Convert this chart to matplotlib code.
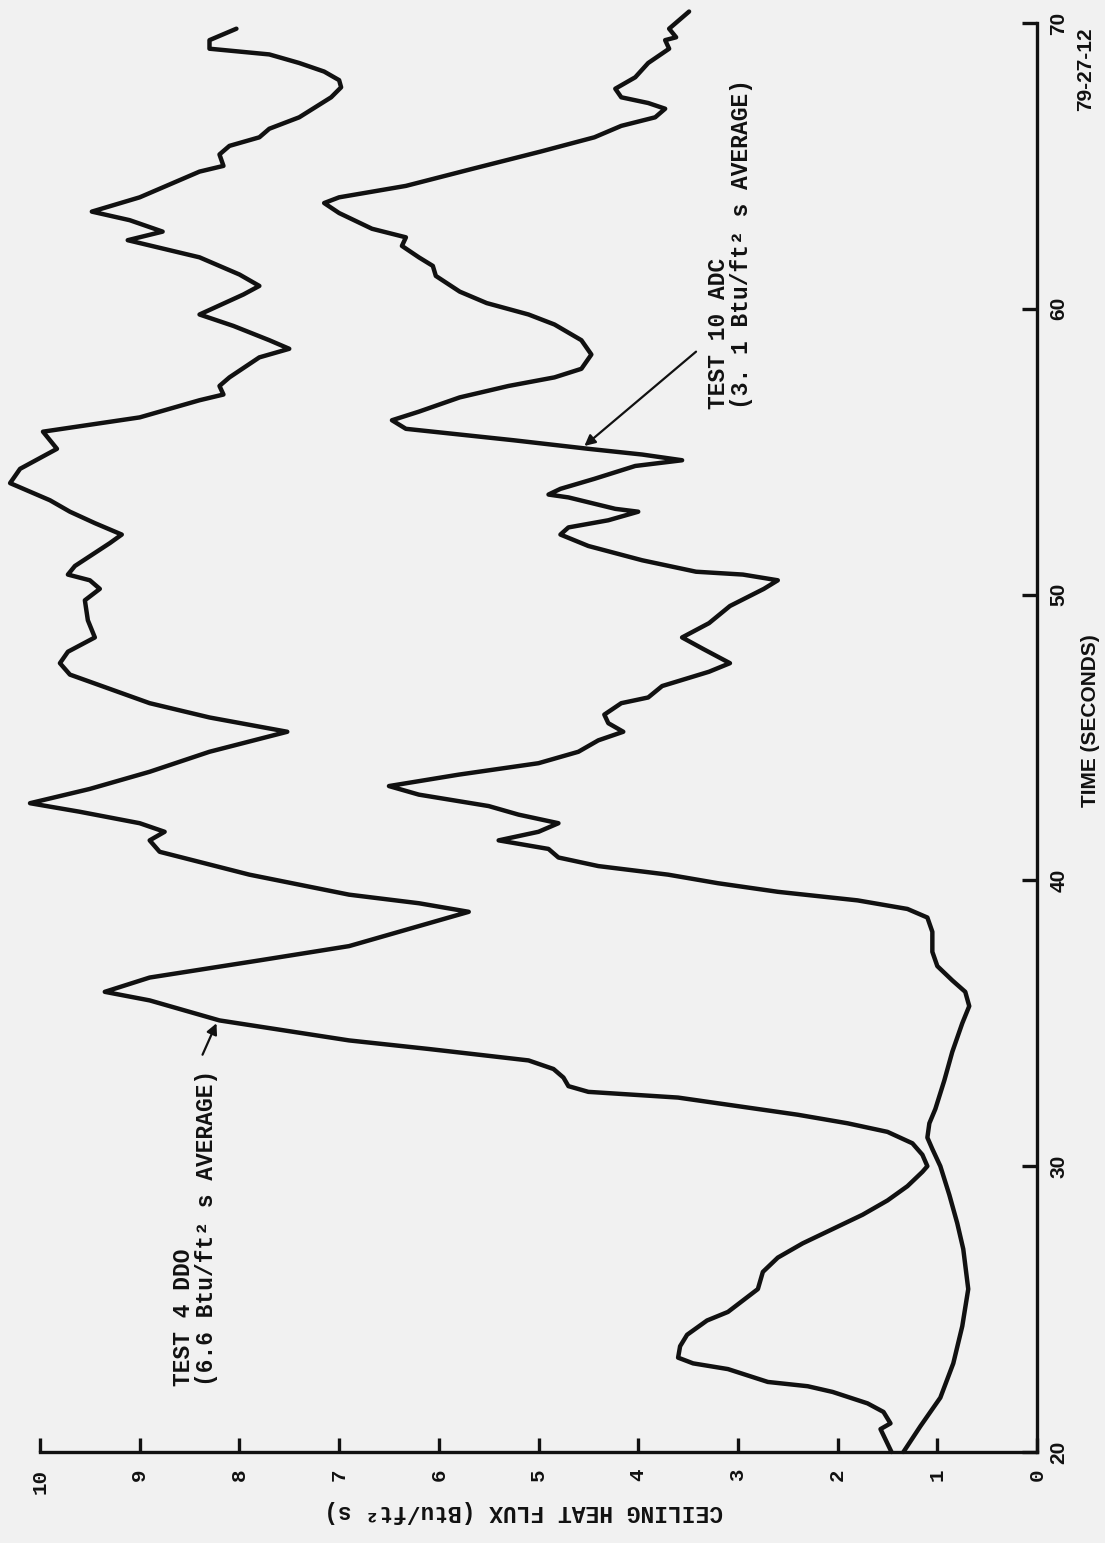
import matplotlib
matplotlib.use("Agg")
import matplotlib.pyplot as plt

# Test 4 DDO ceiling heat flux (time in s, flux in Btu/ft2 s)
ddo_time = [20.0, 20.8, 21.0, 21.4, 21.7, 22.1, 22.3, 22.45, 22.9, 23.1, 23.3, 23.7,
            24.1, 24.6, 24.9, 25.3, 25.7, 26.3, 26.8, 27.3, 27.8, 28.3, 28.8, 29.3,
            29.8, 30.0, 30.4, 30.8, 31.2, 31.5, 31.8, 32.1, 32.4, 32.6, 32.8, 33.1,
            33.4, 33.7, 33.9, 34.1, 34.4, 35.1, 35.8, 36.1, 36.6, 37.2, 37.7, 38.3,
            38.9, 39.2, 39.5, 40.2, 41.0, 41.4, 41.7, 42.0, 42.4, 42.7, 43.2, 43.8,
            44.5, 45.2, 45.7, 46.2, 46.8, 47.2, 47.6, 48.0, 48.5, 49.1, 49.8, 50.2,
            50.5, 50.7, 51.0, 51.8, 52.1, 52.5, 52.9, 53.3, 53.9, 54.4, 55.1, 55.7,
            56.2, 56.8, 57.0, 57.3, 57.6, 58.3, 58.6, 58.9, 59.4, 59.8, 60.5, 60.8,
            61.2, 61.8, 62.4, 62.7, 63.1, 63.4, 63.9, 64.8, 65.0, 65.4, 65.7, 66.0,
            66.3, 66.7, 67.4, 67.75, 68.0, 68.3, 68.6, 68.9, 69.1, 69.4, 69.8]
ddo_flux = [1.46, 1.57, 1.47, 1.54, 1.7, 2.05, 2.3, 2.7, 3.1, 3.45, 3.6, 3.58,
            3.51, 3.31, 3.1, 2.95, 2.8, 2.75, 2.6, 2.35, 2.05, 1.75, 1.5, 1.3,
            1.15, 1.1, 1.15, 1.25, 1.5, 1.9, 2.4, 3.0, 3.6, 4.5, 4.7, 4.75,
            4.85, 5.1, 5.6, 6.1, 6.9, 8.2, 8.9, 9.35, 8.9, 7.8, 6.9, 6.3,
            5.7, 6.2, 6.9, 7.9, 8.8, 8.9, 8.75, 9.0, 9.6, 10.1, 9.5, 8.9,
            8.3, 7.52, 8.3, 8.9, 9.38, 9.7, 9.8, 9.72, 9.45, 9.52, 9.55, 9.4,
            9.5, 9.72, 9.65, 9.3, 9.18, 9.45, 9.7, 9.9, 10.3, 10.2, 9.83, 9.97,
            9.0, 8.4, 8.16, 8.2, 8.1, 7.8, 7.5, 7.7, 8.06, 8.4, 7.96, 7.8,
            8.0, 8.4, 9.12, 8.77, 9.1, 9.48, 9.0, 8.4, 8.16, 8.2, 8.1, 7.8,
            7.7, 7.4, 7.08, 6.98, 7.0, 7.15, 7.4, 7.7, 8.3, 8.3, 8.03]

# Test 10 ADC ceiling heat flux
adc_time = [20.0, 20.9, 21.9, 23.1, 24.4, 25.7, 27.1, 28.0, 29.0, 30.0, 30.6, 31.0,
            31.5, 32.0, 33.0, 34.0, 35.0, 35.6, 36.1, 36.5, 37.0, 37.5, 38.2, 38.7,
            39.0, 39.3, 39.6, 39.9, 40.2, 40.5, 40.8, 41.1, 41.4, 41.7, 42.0, 42.3,
            42.6, 43.0, 43.3, 43.7, 44.1, 44.5, 44.9, 45.2, 45.5, 45.8, 46.2, 46.4,
            46.8, 47.3, 47.6, 48.1, 48.5, 49.0, 49.6, 50.2, 50.5, 50.7, 50.8, 51.2,
            51.7, 52.1, 52.35, 52.6, 52.9, 53.0, 53.4, 53.5, 53.7, 54.05, 54.5, 54.7,
            54.9, 55.1, 55.4, 55.6, 55.8, 56.1, 56.4, 56.9, 57.3, 57.6, 57.9, 58.4,
            58.9, 59.45, 59.8, 60.2, 60.6, 61.15, 61.5, 61.8, 62.2, 62.5, 62.8, 63.35,
            63.7, 63.9, 64.3, 64.9, 65.5, 66.0, 66.4, 66.7, 67.0, 67.2, 67.4, 67.7,
            68.1, 68.6, 69.1, 69.4, 69.5, 69.8, 70.4]
adc_flux = [1.34, 1.17, 0.97, 0.84, 0.75, 0.69, 0.74, 0.8, 0.88, 0.97, 1.05, 1.1,
            1.08, 1.02, 0.93, 0.85, 0.75, 0.68, 0.72, 0.85, 1.0, 1.05, 1.05, 1.1,
            1.3, 1.8, 2.6, 3.2, 3.7, 4.4, 4.8, 4.9, 5.4, 5.0, 4.8, 5.2,
            5.5, 6.2, 6.5, 5.8, 5.0, 4.6, 4.4, 4.15, 4.3, 4.34, 4.17, 3.9,
            3.76, 3.29, 3.08, 3.35, 3.56, 3.29, 3.08, 2.74, 2.6, 2.95, 3.42, 3.96,
            4.5, 4.78, 4.7, 4.3, 4.0, 4.23, 4.7, 4.9, 4.78, 4.44, 4.03, 3.56,
            3.96, 4.5, 5.25, 5.79, 6.33, 6.47, 6.2, 5.79, 5.3, 4.84, 4.57, 4.47,
            4.57, 4.84, 5.1, 5.52, 5.79, 6.03, 6.06, 6.2, 6.37, 6.33, 6.67, 7.0,
            7.15, 7.0, 6.33, 5.66, 4.98, 4.44, 4.17, 3.83, 3.73, 3.9, 4.17, 4.23,
            4.03, 3.9, 3.69, 3.73, 3.62, 3.69, 3.49]

flux_ticks = list(range(0, 11))
time_ticks = [20, 30, 40, 50, 60, 70]

ddo_label = "TEST 4 DDO\n(6.6 Btu/ft\u00b2 s AVERAGE)"
adc_label = "TEST 10 ADC\n(3. 1 Btu/ft\u00b2 s AVERAGE)"
flux_title = "CEILING HEAT FLUX (Btu/ft\u00b2 s)"
time_title = "TIME (SECONDS)"
fig_number = "79-27-12"

paper = "#f1f1f1"
ink = "#111111"
mono = ["Liberation Mono", "DejaVu Sans Mono"]
sans = ["Liberation Sans", "DejaVu Sans"]

# the figure is printed sideways on the page: flux runs along the bottom
# (10 on the left), time runs up the right-hand side
fig = plt.figure(figsize=(11.05, 15.43), dpi=100, facecolor=paper)
ax = fig.add_axes([0.0362, 0.0590, 0.9023, 0.9261])
ax.set_facecolor(paper)

ax.plot(ddo_flux, ddo_time, color=ink, lw=3.2, clip_on=False,
        solid_joinstyle="round", solid_capstyle="round")
ax.plot(adc_flux, adc_time, color=ink, lw=3.2, clip_on=False,
        solid_joinstyle="round", solid_capstyle="round")

ax.set_xlim(10, 0)
ax.set_ylim(20, 70)

for side in ["left", "top"]:
    ax.spines[side].set_visible(False)
for side in ["right", "bottom"]:
    ax.spines[side].set_linewidth(2.4)
    ax.spines[side].set_color(ink)

ax.yaxis.tick_right()
ax.set_xticks(flux_ticks)
ax.set_yticks(time_ticks)
ax.tick_params(axis="x", direction="in", length=10, width=2.4, pad=12, colors=ink)
ax.tick_params(axis="y", direction="in", length=11, width=2.4, pad=9, colors=ink)
ax.set_xticklabels([str(v) for v in flux_ticks], rotation=90,
                   family=mono, fontweight="bold", fontsize=15)
ax.set_yticklabels([str(v) for v in time_ticks], rotation=90, va="center",
                   family=sans, fontweight="bold", fontsize=15)

# curve labels and arrows
ax.text(8.45, 22.3, ddo_label, rotation=90, ha="center", va="bottom",
        multialignment="left", family=mono, fontweight="bold",
        fontsize=16.5, color=ink, linespacing=1.0)
ax.text(3.08, 56.5, adc_label, rotation=90, ha="center", va="bottom",
        multialignment="left", family=mono, fontweight="bold",
        fontsize=16.5, color=ink, linespacing=1.0)
arrow = dict(arrowstyle="-|>", lw=1.6, color=ink, mutation_scale=16,
             shrinkA=0, shrinkB=0)
ax.annotate("", xy=(8.23, 35.0), xytext=(8.37, 33.9), arrowprops=arrow)
ax.annotate("", xy=(4.54, 55.2), xytext=(3.42, 58.5), arrowprops=arrow)

# axis titles, printed sideways like the rest of the page
ax.text(5.15, 17.9, flux_title, rotation=180, ha="center", va="center",
        family=mono, fontweight="bold", fontsize=16.5, color=ink, clip_on=False)
ax.text(-0.54, 45.6, time_title, rotation=90, ha="center", va="center",
        family=sans, fontweight="bold", fontsize=15, color=ink, clip_on=False)
ax.text(-0.49, 68.4, fig_number, rotation=90, ha="center", va="center",
        family=sans, fontweight="bold", fontsize=15, color=ink, clip_on=False)

fig.savefig("out.png", dpi=100, facecolor=paper)
